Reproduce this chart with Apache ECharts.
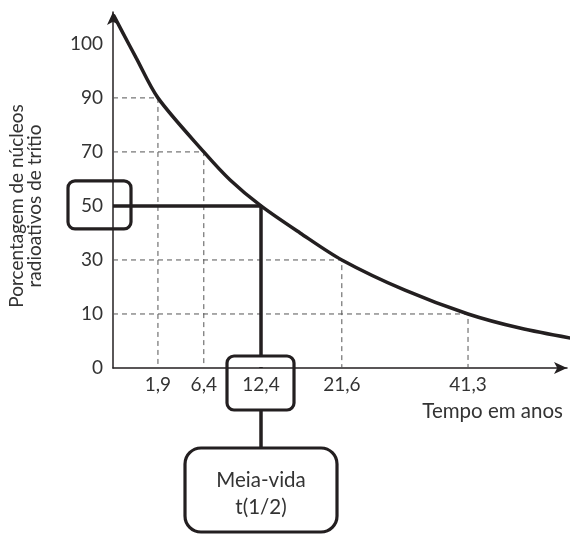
<!DOCTYPE html>
<html>
<head>
<meta charset="utf-8">
<script src="https://cdn.jsdelivr.net/npm/echarts@6/dist/echarts.min.js"></script>
<style>html,body{margin:0;padding:0;background:#fff}#c{width:576px;height:535px}</style>
</head>
<body>
<div id="c"></div>
<script>
// Schematic chart: the horizontal axis is not to scale, so each time label has a read position (0-100 along the axis)
var timeLabels = ['1,9', '6,4', '12,4', '21,6', '41,3'];
var timePos = [9.9, 20.0, 32.6, 50.4, 78.2];
// Vertical axis: evenly spaced labels (index 0..6)
var pctLabels = ['0', '10', '30', '50', '70', '90', '100'];
// Percentage level (label index) paired with each time label
var levelIdx = [5, 4, 3, 2, 1];
// Decay curve (schematic x position, label-index y)
var curveX = [0.2, 2.2, 5.1, 9.9, 20.0, 25.8, 32.6, 41.2, 50.4, 64.3, 78.2, 89.6, 103.0];
var curveY = [6.52, 6.20, 5.74, 5.0, 4.0, 3.48, 3.0, 2.5, 2.0, 1.44, 1.0, 0.74, 0.52];
var halfLifeIdx = 2; // 12,4 -> 50
var boxText = 'Meia-vida\nt(1/2)';
var xName = 'Tempo em anos';
var yName = 'Porcentagem de núcleos\nradioativos de trítio';

var INK = '#231f20';
var TXT = '#333';
var FONT = 'Lato';

var chart = echarts.init(document.getElementById('c'), null, {renderer: 'canvas'});

var series = [];
// dashed guide lines (except the half-life one)
timePos.forEach(function (x, i) {
  if (i === halfLifeIdx) return;
  series.push({
    type: 'line', symbol: 'none', silent: true, z: 1,
    lineStyle: {color: '#555', width: 1, type: [5, 4]},
    data: [[0, levelIdx[i]], [x, levelIdx[i]], [x, 0]]
  });
});
// half-life thick lines
series.push({
  type: 'line', symbol: 'none', silent: true, z: 3, clip: false,
  lineStyle: {color: INK, width: 3.5, cap: 'butt'},
  data: [[0, levelIdx[halfLifeIdx]], [timePos[halfLifeIdx], levelIdx[halfLifeIdx]], [timePos[halfLifeIdx], 0]]
});
// decay curve
series.push({
  type: 'line', symbol: 'none', silent: true, z: 4, clip: false,
  smooth: 0.3,
  lineStyle: {color: INK, width: 3.5, cap: 'round'},
  data: curveX.map(function (x, i) { return [x, curveY[i]]; })
});

chart.setOption({
  animation: false,
  backgroundColor: '#fff',
  grid: {left: 113, right: 9, top: 12, bottom: 167, containLabel: false},
  xAxis: {
    type: 'value', min: 0, max: 100,
    axisLine: {show: true, symbol: ['none', 'arrow'], symbolSize: [9, 13], lineStyle: {color: INK, width: 1.5}},
    axisTick: {show: false},
    splitLine: {show: false},
    axisLabel: {
      customValues: timePos,
      formatter: function (v) { var i = timePos.indexOf(v); return i >= 0 ? timeLabels[i] : ''; },
      color: TXT, fontFamily: FONT, fontSize: 19, margin: 7
    },
    name: xName, nameLocation: 'end', nameGap: -4,
    nameTextStyle: {color: TXT, fontFamily: FONT, fontSize: 20.5, align: 'right', verticalAlign: 'top', padding: [33, 0, 0, 0]}
  },
  yAxis: {
    type: 'value', min: 0, max: 6.59,
    axisLine: {show: true, symbol: ['none', 'arrow'], symbolSize: [9, 13], lineStyle: {color: INK, width: 1.5}},
    axisTick: {show: false},
    splitLine: {show: false},
    axisLabel: {
      customValues: [0, 1, 2, 3, 4, 5, 6],
      formatter: function (v) { return pctLabels[Math.round(v)]; },
      color: TXT, fontFamily: FONT, fontSize: 19, margin: 10
    }
  },
  series: series
});

var hx = chart.convertToPixel({xAxisIndex: 0}, timePos[halfLifeIdx]);
var hy = chart.convertToPixel({yAxisIndex: 0}, levelIdx[halfLifeIdx]);
var ax = chart.convertToPixel({xAxisIndex: 0}, 0);
var ay = chart.convertToPixel({yAxisIndex: 0}, 0);

var boxStyle = {fill: 'none', stroke: INK, lineWidth: 3.2};
var top124 = ay - 12, bot124 = ay + 42;
var bigTop = 448;

chart.setOption({
  graphic: [
    // box around 50
    {type: 'rect', z: 10, shape: {x: ax - 45, y: hy - 25, width: 63, height: 48, r: 7}, style: boxStyle},
    // mask vertical line inside 12,4 box (above the axis)
    {type: 'rect', z: 9, shape: {x: hx - 3, y: top124 + 1, width: 6, height: ay - top124 - 2}, style: {fill: '#fff'}},
    // box around 12,4
    {type: 'rect', z: 10, shape: {x: hx - 34, y: top124, width: 67, height: bot124 - top124, r: 7}, style: boxStyle},
    // connector
    {type: 'line', z: 10, shape: {x1: hx, y1: bot124, x2: hx, y2: bigTop}, style: {stroke: INK, lineWidth: 3.5}},
    // big box
    {type: 'rect', z: 10, shape: {x: hx - 76, y: bigTop, width: 152, height: 84, r: 16}, style: {fill: '#fff', stroke: INK, lineWidth: 3.2}},
    {type: 'text', z: 11, x: hx, y: 494, style: {text: boxText, fill: TXT, font: '20.5px ' + FONT, align: 'center', verticalAlign: 'middle', lineHeight: 27}},
    // y axis name
    {type: 'text', z: 11, x: 26, y: 206, rotation: Math.PI / 2, style: {text: yName, fill: TXT, font: '19px ' + FONT, align: 'center', verticalAlign: 'middle', lineHeight: 18}}
  ]
});
</script>
</body>
</html>
